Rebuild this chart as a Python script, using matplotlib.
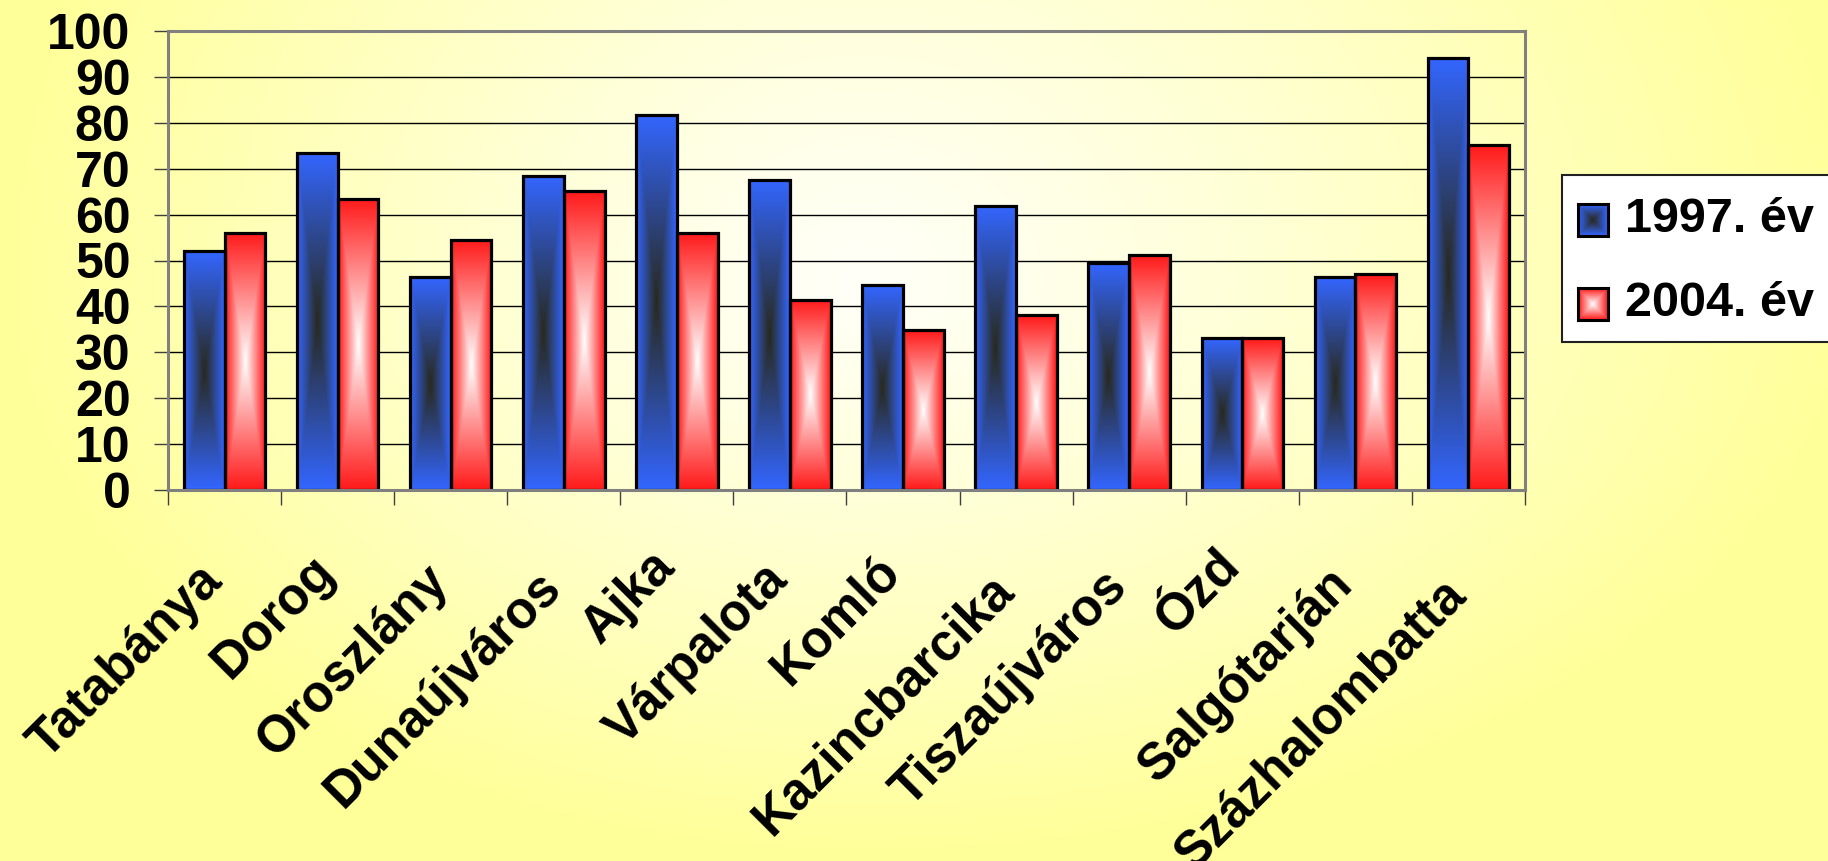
import numpy as np
import matplotlib
matplotlib.use("Agg")
import matplotlib.pyplot as plt
from matplotlib.patches import Rectangle
from matplotlib.transforms import ScaledTranslation
from matplotlib.font_manager import FontProperties

# ---------------- data ----------------
cities = ["Tatabánya", "Dorog", "Oroszlány", "Dunaújváros", "Ajka", "Várpalota",
          "Komló", "Kazincbarcika", "Tiszaújváros", "Ózd", "Salgótarján", "Százhalombatta"]
values_1997 = [52, 73.5, 46.3, 68.5, 81.7, 67.6, 44.6, 61.9, 49.5, 33.1, 46.3, 94.2]
values_2004 = [56, 63.4, 54.5, 65.1, 56, 41.4, 34.8, 38.1, 51.1, 33.1, 47.0, 75.1]
series_labels = ["1997. év", "2004. év"]
y_ticks = [0, 10, 20, 30, 40, 50, 60, 70, 80, 90, 100]

W, H, DPI = 1828, 861, 100
FONT = "Liberation Sans"

fig = plt.figure(figsize=(W / DPI, H / DPI), dpi=DPI)

# ---------------- background gradient ----------------
bg = fig.add_axes([0, 0, 1, 1], zorder=-10)
yy, xx = np.mgrid[0:1:400j, 0:1:800j]  # yy from top
cx, cy = 0.47, 0.33
dx = np.where(xx < cx, (xx - cx) / 0.47, (xx - cx) / 0.55)
dy = np.where(yy < cy, (yy - cy) / 0.95, (yy - cy) / 0.67)
t = np.clip(np.sqrt(dx ** 2 + dy ** 2), 0, 1) ** 1.1
c_in = np.array([1.0, 1.0, 0.975])
c_out = np.array([1.0, 1.0, 0.60])
img = c_in[None, None, :] * (1 - t[..., None]) + c_out[None, None, :] * t[..., None]
bg.imshow(img, extent=[0, 1, 0, 1], aspect="auto", origin="upper")
bg.set_axis_off()


def rect_gradient(c_center, c_edge, nx=40, ny=200):
    u = np.linspace(-1, 1, nx)
    v = np.linspace(-1, 1, ny)
    U, V = np.meshgrid(u, v)
    tt = np.maximum(np.abs(U), np.abs(V))
    c_center = np.array(c_center)
    c_edge = np.array(c_edge)
    return c_center[None, None, :] * (1 - tt[..., None]) + c_edge[None, None, :] * tt[..., None]


BLUE_EDGE = (0.20, 0.40, 1.00)
BLUE_CENTER = (0.16, 0.16, 0.11)
RED_EDGE = (1.00, 0.10, 0.10)
RED_CENTER = (1.00, 1.00, 1.00)

# ---------------- main axes ----------------
ax = fig.add_axes([168 / W, 1 - 490 / H, (1525 - 168) / W, (490 - 31) / H])
ax.set_facecolor("none")

n = len(cities)
x = np.arange(n)
bw = 0.36
bars1 = ax.bar(x - bw / 2, values_1997, width=bw, facecolor="none",
               edgecolor="black", linewidth=2.3, zorder=4)
bars2 = ax.bar(x + bw / 2, values_2004, width=bw, facecolor="none",
               edgecolor="black", linewidth=2.3, zorder=4)

grad_b = rect_gradient(BLUE_CENTER, BLUE_EDGE)
grad_r = rect_gradient(RED_CENTER, RED_EDGE)
for bars, g in ((bars1, grad_b), (bars2, grad_r)):
    for p in bars:
        x0, y0, w, h = p.get_x(), p.get_y(), p.get_width(), p.get_height()
        ax.imshow(g, extent=[x0, x0 + w, y0, y0 + h], aspect="auto",
                  zorder=3, interpolation="bilinear")

ax.set_xlim(-0.5, n - 0.5)
ax.set_ylim(0, 100)

# grid
ax.set_yticks(y_ticks)
ax.yaxis.grid(True, color="black", linewidth=1.0, zorder=1)
ax.set_axisbelow(True)

# spines
for s in ax.spines.values():
    s.set_color("#808080")
    s.set_linewidth(2.2)
    s.set_zorder(5)

# y ticks
ax.tick_params(axis="y", direction="out", length=10, width=1.0, color="#404040",
               pad=17)
ax.set_yticklabels([str(v) for v in y_ticks], fontsize=36, fontweight="bold",
                   fontfamily=FONT)

# x ticks at boundaries
ax.set_xticks(np.arange(-0.5, n, 1.0))
ax.set_xticklabels([])
ax.tick_params(axis="x", which="major", direction="out", length=11, width=1.0,
               color="#404040")

# rotated category labels
fp = FontProperties(family=FONT, weight="bold", size=37)
renderer = fig.canvas.get_renderer()
xt = ax.get_xaxis_transform()
for i, name in enumerate(cities):
    wpx, _, _ = renderer.get_text_width_height_descent(name, fp, ismath=False)
    off_y = -(58 + 0.102 * wpx) * 72.0 / DPI
    off_x = -10 * 72.0 / DPI
    tr = xt + ScaledTranslation(off_x / 72.0, off_y / 72.0, fig.dpi_scale_trans)
    ax.text(x[i], 0, name, transform=tr, fontproperties=fp, rotation=45,
            rotation_mode="anchor", ha="right", va="center", clip_on=False)

# ---------------- legend ----------------
lx0, ly0, lx1, ly1 = 1562, 175, 1845, 342
fig.patches.append(Rectangle((lx0 / W, 1 - ly1 / H), (lx1 - lx0) / W, (ly1 - ly0) / H,
                             transform=fig.transFigure, facecolor="white",
                             edgecolor="#202020", linewidth=1.5, zorder=10))
rows = [(220, BLUE_CENTER, BLUE_EDGE), (304, RED_CENTER, RED_EDGE)]
for (yc, cc, ce), lab in zip(rows, series_labels):
    sw = fig.add_axes([1578 / W, 1 - (yc + 16) / H, 30 / W, 32 / H], zorder=11)
    small = rect_gradient(cc, ce, nx=40, ny=40)
    sw.imshow(small, aspect="auto", interpolation="bilinear")
    sw.set_xticks([])
    sw.set_yticks([])
    for s in sw.spines.values():
        s.set_linewidth(2.2)
        s.set_color("black")
    fig.text(1625 / W, 1 - yc / H, lab, fontsize=35, fontweight="bold",
             fontfamily=FONT, va="center", ha="left", zorder=12)

fig.savefig("out.png", dpi=DPI)
